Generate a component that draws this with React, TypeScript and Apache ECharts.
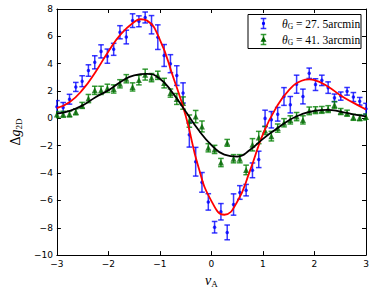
import React, { useEffect, useRef } from "react";
import * as echarts from "echarts";

// nu_A sample positions (50 points from -3 to 3)
const xs = [
  -3.0, -2.878, -2.755, -2.633, -2.51, -2.388, -2.265, -2.143, -2.02, -1.898,
  -1.776, -1.653, -1.531, -1.408, -1.286, -1.163, -1.041, -0.918, -0.796, -0.673,
  -0.551, -0.429, -0.306, -0.184, -0.061, 0.061, 0.184, 0.306, 0.429, 0.551,
  0.673, 0.796, 0.918, 1.041, 1.163, 1.286, 1.408, 1.531, 1.653, 1.776,
  1.898, 2.02, 2.143, 2.265, 2.388, 2.51, 2.633, 2.755, 2.878, 3.0,
];

// theta_G = 27.5 arcmin (blue)
const blueY = [
  0.85, 0.8, 1.4, 2.3, 2.72, 3.5, 4.1, 4.9, 4.55, 5.05,
  6.3, 5.95, 7.15, 7.1, 7.38, 6.85, 5.94, 4.6, 4.0, 3.13,
  1.86, -1.2, -3.17, -4.68, -6.11, -7.96, -6.83, -8.34, -6.3, -5.42,
  -5.25, -3.8, -3.0, 0.0, -0.1, 0.3, 1.6, 1.0, 2.5, 1.6,
  3.3, 2.47, 2.78, 2.25, 1.5, 1.63, 1.98, 1.56, 1.25, 0.7,
];
const blueErr = [
  0.45, 0.36, 0.36, 0.33, 0.4, 0.42, 0.48, 0.48, 0.52, 0.44,
  0.48, 0.5, 0.5, 0.4, 0.4, 0.67, 0.9, 0.8, 0.66, 0.72,
  0.74, 0.9, 1.05, 0.72, 0.6, 0.42, 0.6, 0.54, 0.78, 0.5,
  0.42, 0.54, 0.6, 0.6, 0.6, 0.5, 0.65, 0.6, 0.66, 0.54,
  0.38, 0.43, 0.38, 0.42, 0.28, 0.3, 0.28, 0.33, 0.28, 0.4,
];

// theta_G = 41.3 arcmin (green)
const greenY = [
  0.28, 0.3, 0.32, 0.48, 0.95, 1.45, 2.05, 2.05, 2.2, 2.15,
  2.53, 2.9, 2.3, 2.8, 3.2, 2.98, 3.15, 2.58, 1.85, 1.42,
  1.12, -0.2, 0.13, -0.59, -2.15, -2.27, -3.23, -1.79, -2.95, -2.95,
  -3.77, -1.93, -1.4, -0.88, -1.3, -0.71, -0.32, -0.11, 0.13, -0.11,
  0.55, 0.6, 0.62, 0.68, 0.98, 0.5, 0.38, 0.08, 0.05, 0.1,
];
const greenErr = [
  0.22, 0.22, 0.22, 0.22, 0.22, 0.3, 0.3, 0.3, 0.3, 0.3,
  0.3, 0.3, 0.3, 0.35, 0.4, 0.3, 0.3, 0.35, 0.3, 0.4,
  0.45, 0.45, 0.45, 0.4, 0.3, 0.3, 0.3, 0.25, 0.3, 0.3,
  0.35, 0.45, 0.45, 0.3, 0.35, 0.3, 0.3, 0.3, 0.3, 0.3,
  0.28, 0.25, 0.25, 0.25, 0.25, 0.22, 0.22, 0.22, 0.22, 0.22,
];

// model curves
const redX = [-3.0, -2.75, -2.5, -2.25, -2.0, -1.75, -1.5, -1.375, -1.25, -1.0, -0.75, -0.5, -0.25, 0.0, 0.25, 0.5, 0.75, 1.0, 1.25, 1.5, 1.75, 1.9, 2.0, 2.25, 2.5, 2.75, 3.0];
const redY = [0.75, 1.2, 2.1, 3.4, 4.9, 6.2, 7.05, 7.25, 7.15, 5.75, 3.1, 0.2, -3.6, -6.05, -7.05, -6.1, -3.8, -1.15, 0.75, 2.05, 2.75, 2.85, 2.8, 2.35, 1.7, 1.15, 0.65];
const blackX = [-3.0, -2.75, -2.5, -2.25, -2.0, -1.75, -1.5, -1.25, -1.0, -0.75, -0.5, -0.25, 0.0, 0.25, 0.5, 0.75, 1.0, 1.25, 1.5, 1.75, 2.0, 2.25, 2.5, 2.75, 3.0];
const blackY = [0.35, 0.55, 0.95, 1.55, 2.05, 2.7, 3.15, 3.25, 2.9, 1.85, 0.5, -0.85, -1.95, -2.65, -2.8, -2.3, -1.5, -0.8, -0.15, 0.3, 0.55, 0.62, 0.5, 0.3, 0.15];

const xTicks = { min: -3, max: 3, interval: 1 };
const yTicks = { min: -10, max: 8, interval: 2 };

const legendLabels = ["27. 5arcmin", "41. 3arcmin"];

const BLUE = "#0000ff";
const BLUE_BAR = "rgba(0,0,255,0.78)";
const GREEN_BAR = "rgba(0,128,0,0.78)";
const DARKGREEN = "#006400";

function errorBars(ys: number[], errs: number[], color: string) {
  return {
    type: "custom",
    clip: true,
    z: 2,
    encode: { x: 0, y: 1 },
    data: xs.map((x, i) => [x, ys[i], errs[i]]),
    renderItem: (_p: any, api: any) => {
      const x = api.value(0);
      const y = api.value(1);
      const e = api.value(2);
      const a = api.coord([x, y + e]);
      const b = api.coord([x, y - e]);
      const hw = 2.8;
      const st = { stroke: color, lineWidth: 1.5 };
      return {
        type: "group",
        children: [
          { type: "line", shape: { x1: a[0], y1: a[1], x2: b[0], y2: b[1] }, style: st },
          { type: "line", shape: { x1: a[0] - hw, y1: a[1], x2: a[0] + hw, y2: a[1] }, style: st },
          { type: "line", shape: { x1: b[0] - hw, y1: b[1], x2: b[0] + hw, y2: b[1] }, style: st },
        ],
      };
    },
  };
}

const tickFont = { fontFamily: "DejaVu Sans", fontSize: 9, color: "#000" };

function legendEntry(y: number, barColor: string, marker: any, label: string) {
  const x = 263.5;
  const st = { stroke: barColor, lineWidth: 1.5 };
  return [
    { type: "line", z: 11, shape: { x1: x, y1: y - 5, x2: x, y2: y + 5 }, style: st },
    { type: "line", z: 11, shape: { x1: x - 2.8, y1: y - 5, x2: x + 2.8, y2: y - 5 }, style: st },
    { type: "line", z: 11, shape: { x1: x - 2.8, y1: y + 5, x2: x + 2.8, y2: y + 5 }, style: st },
    marker,
    {
      type: "text",
      z: 11,
      x: 282,
      y: y,
      style: {
        text: "{t|θ}{s|G}{n| = " + label + "}",
        verticalAlign: "middle",
        rich: {
          t: { fontFamily: "Liberation Serif", fontStyle: "italic", fontSize: 11.5, lineHeight: 14, verticalAlign: "middle" },
          s: { fontFamily: "Liberation Serif", fontSize: 7.5, lineHeight: 14, verticalAlign: "bottom", padding: [4, 0, 0, 0] },
          n: { fontFamily: "Liberation Serif", fontSize: 11.5, lineHeight: 14, verticalAlign: "middle" },
        },
      },
    },
  ];
}

export default function App() {
  const ref = useRef<HTMLDivElement>(null);
  useEffect(() => {
    if (!ref.current) return;
    const chart = echarts.init(ref.current, undefined, { renderer: "svg" });
    const axisLine = { show: true, onZero: false, lineStyle: { color: "#000", width: 1 } };
    const axisTick = { show: true, inside: true, length: 4, lineStyle: { color: "#000", width: 1 } };
    chart.setOption({
      animation: false,
      backgroundColor: "#fff",
      grid: { left: 43, right: 8, top: 9, bottom: 34, containLabel: false },
      xAxis: [
        {
          type: "value",
          ...xTicks,
          position: "bottom",
          axisLine,
          axisTick,
          splitLine: { show: false },
          axisLabel: { ...tickFont, margin: 4, formatter: (v: number) => String(v).replace("-", "\u2212") },
          name: "{v|ν}{s|A}",
          nameLocation: "middle",
          nameGap: 16,
          nameTextStyle: {
            rich: {
              v: { fontFamily: "Liberation Serif", fontStyle: "italic", fontSize: 14, lineHeight: 16, verticalAlign: "middle" },
              s: { fontFamily: "Liberation Serif", fontSize: 9, lineHeight: 16, verticalAlign: "bottom", padding: [5, 0, 0, 0] },
            },
          },
        },
        {
          type: "value",
          ...xTicks,
          position: "top",
          axisLine,
          axisTick,
          splitLine: { show: false },
          axisLabel: { show: false },
        },
      ],
      yAxis: [
        {
          type: "value",
          ...yTicks,
          position: "left",
          axisLine,
          axisTick,
          splitLine: { show: false },
          axisLabel: { ...tickFont, margin: 4, formatter: (v: number) => String(v).replace("-", "\u2212") },
          name: "{d|Δ}{g|g}{s|2D}",
          nameLocation: "middle",
          nameGap: 27,
          nameTextStyle: {
            rich: {
              d: { fontFamily: "Liberation Serif", fontSize: 14, lineHeight: 16, verticalAlign: "middle" },
              g: { fontFamily: "Liberation Serif", fontStyle: "italic", fontSize: 14, lineHeight: 16, verticalAlign: "middle" },
              s: { fontFamily: "Liberation Serif", fontSize: 9, lineHeight: 16, verticalAlign: "bottom", padding: [5, 0, 0, 0] },
            },
          },
        },
        {
          type: "value",
          ...yTicks,
          position: "right",
          axisLine,
          axisTick,
          splitLine: { show: false },
          axisLabel: { show: false },
        },
      ],
      series: [
        errorBars(blueY, blueErr, BLUE_BAR),
        errorBars(greenY, greenErr, GREEN_BAR),
        {
          type: "scatter",
          z: 3,
          symbol: "circle",
          symbolSize: 3.5,
          itemStyle: { color: BLUE },
          data: xs.map((x, i) => [x, blueY[i]]),
          clip: true,
        },
        {
          type: "scatter",
          z: 3,
          symbol: "triangle",
          symbolSize: 6,
          itemStyle: { color: DARKGREEN },
          data: xs.map((x, i) => [x, greenY[i]]),
          clip: true,
        },
        {
          type: "line",
          z: 4,
          smooth: true,
          showSymbol: false,
          lineStyle: { color: "#ff0000", width: 1.8 },
          data: redX.map((x, i) => [x, redY[i]]),
        },
        {
          type: "line",
          z: 4,
          smooth: true,
          showSymbol: false,
          lineStyle: { color: "#000000", width: 1.8 },
          data: blackX.map((x, i) => [x, blackY[i]]),
        },
      ],
      graphic: [
        {
          type: "rect",
          z: 10,
          shape: { x: 248, y: 14.5, width: 113, height: 34 },
          style: { fill: "#fff", stroke: "#000", lineWidth: 1 },
        },
        ...legendEntry(23.5, BLUE_BAR, { type: "circle", z: 11, shape: { cx: 263.5, cy: 23.5, r: 1.6 }, style: { fill: BLUE } }, legendLabels[0]),
        ...legendEntry(39.5, GREEN_BAR, { type: "polygon", z: 11, shape: { points: [[263.5, 36.5], [260.5, 41.7], [266.5, 41.7]] }, style: { fill: DARKGREEN } }, legendLabels[1]),
      ],
    });
    return () => chart.dispose();
  }, []);
  return <div ref={ref} style={{ position: "absolute", left: 0, top: 0, width: 374, height: 293 }} />;
}
